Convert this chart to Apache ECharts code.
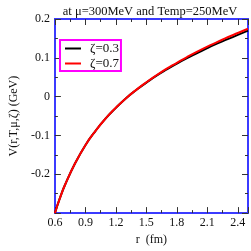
<!DOCTYPE html>
<html><head><meta charset="utf-8">
<script src="https://cdn.jsdelivr.net/npm/echarts@6/dist/echarts.min.js"></script>
<style>html,body{margin:0;padding:0;background:#fff}#c{width:251px;height:251px}</style>
</head><body><div id="c"></div>
<script>
var rValues = [0.6,0.65,0.7,0.8,0.9,1.0,1.1,1.2,1.3,1.4,1.5,1.6,1.7,1.8,1.9,2.0,2.1,2.2,2.3,2.4,2.5];
var zeta03 = [-0.300,-0.261,-0.227,-0.171,-0.125,-0.088,-0.056,-0.029,-0.004,0.017,0.036,0.054,0.070,0.085,0.099,0.112,0.125,0.137,0.148,0.159,0.170];
var zeta07 = [-0.300,-0.261,-0.227,-0.171,-0.125,-0.088,-0.056,-0.0285,-0.004,0.0175,0.037,0.055,0.072,0.087,0.102,0.116,0.129,0.141,0.153,0.164,0.175];
var seriesNames = ['ζ=0.3','ζ=0.7'];
var titleText = 'at μ=300MeV and Temp=250MeV';
var xName = 'r  (fm)';
var yName = 'V(r,T,μ,ζ) (GeV)';

var font = 'Liberation Serif';
var blue = '#3b3bff';
function pairs(ys){ return rValues.map(function(r,i){ return [r, ys[i]]; }); }
function near(v, step){ var k = Math.round(v/step); return Math.abs(v - k*step) < 1e-6; }

function xAx(pos, interval, len, labels){
  return {type:'value', position:pos, min:0.6, max:2.5, interval:interval,
    axisLine:{show:true, onZero:false, lineStyle:{color:blue, width:2}},
    axisTick:{show:true, inside:true, length:len, lineStyle:{color:'#333', width:1}},
    axisLabel:{show:labels, margin:4, color:'#111', fontFamily:font, fontSize:12,
      formatter:function(v){ return near(v,0.3) ? (+v.toFixed(1)).toString() : ''; }},
    splitLine:{show:false},
    name: labels ? xName : '', nameLocation:'middle', nameGap:19,
    nameTextStyle:{color:'#111', fontFamily:font, fontSize:12}};
}
function yAx(pos, interval, len, labels){
  return {type:'value', position:pos, min:-0.3, max:0.2, interval:interval,
    axisLine:{show:true, onZero:false, lineStyle:{color:blue, width:2}},
    axisTick:{show:true, inside:true, length:len, lineStyle:{color:'#333', width:1}},
    axisLabel:{show:labels, margin:5, color:'#111', fontFamily:font, fontSize:12,
      formatter:function(v){ if (Math.abs(v+0.3)<1e-6) return ''; return (+v.toFixed(1)).toString(); }},
    splitLine:{show:false},
    name: labels ? yName : '', nameLocation:'middle', nameGap:30,
    nameTextStyle:{color:'#111', fontFamily:font, fontSize:12}};
}

var chart = echarts.init(document.getElementById('c'), null, {renderer:'canvas'});
chart.setOption({
  animation:false,
  backgroundColor:'#fff',
  title:{text:titleText, left:145, textAlign:'center', top:0,
    textStyle:{fontFamily:font, fontSize:12.5, fontWeight:'normal', color:'#111'}},
  grid:{left:39, right:1, top:19, bottom:28, containLabel:false},
  legend:{orient:'vertical', left:60, top:40, itemWidth:16, itemHeight:2, itemGap:2,
    icon:'rect',
    padding:[2,2,1,5], borderColor:'#ff00ff', borderWidth:2, backgroundColor:'#fff',
    textStyle:{fontFamily:font, fontSize:13, color:'#111', padding:[0,0,0,4]},
    data:seriesNames},
  xAxis:[xAx('bottom',0.3,6,true), xAx('bottom',0.15,3,false), xAx('top',0.3,6,false), xAx('top',0.15,3,false)],
  yAxis:[yAx('left',0.1,6,true), yAx('left',0.05,3,false), yAx('right',0.1,6,false), yAx('right',0.05,3,false)],
  series:[
    {name:seriesNames[0], type:'line', smooth:true, symbol:'none', data:pairs(zeta03),
      lineStyle:{color:'#000', width:2}, itemStyle:{color:'#000'}},
    {name:seriesNames[1], type:'line', smooth:true, symbol:'none', data:pairs(zeta07),
      lineStyle:{color:'#ff0000', width:2}, itemStyle:{color:'#ff0000'}}
  ]
});
</script></body></html>
